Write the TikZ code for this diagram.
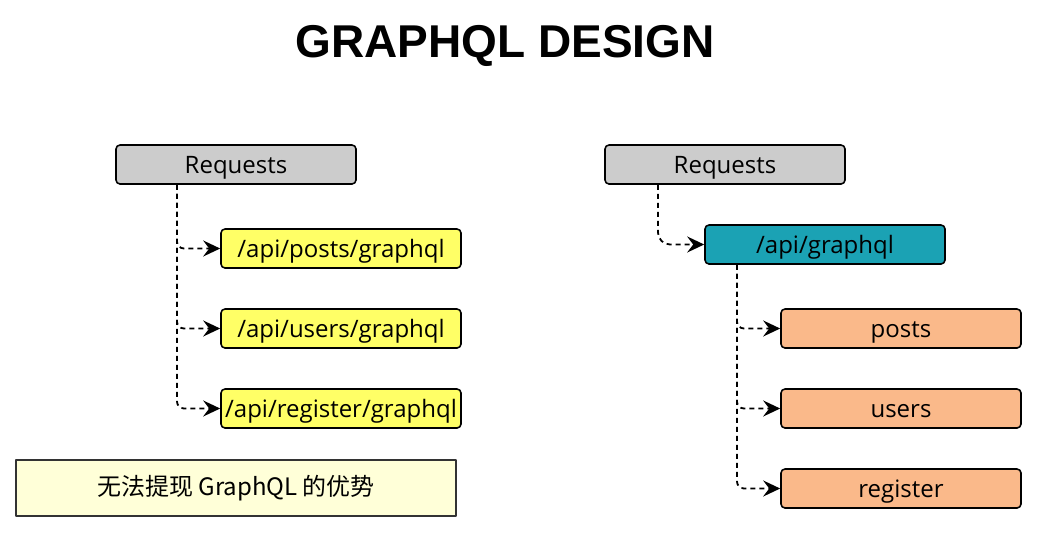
\documentclass[tikz,border=0pt]{standalone}
\usepackage{fontspec}
\setmainfont{Liberation Sans}
\newfontfamily\handfont{Open Sans}
\newfontfamily\cjk{Noto Sans CJK SC}
\usetikzlibrary{arrows.meta}
\definecolor{reqgray}{HTML}{CCCCCC}
\definecolor{pathyellow}{HTML}{FFFF66}
\definecolor{apiteal}{HTML}{1BA2B4}
\definecolor{fieldorange}{HTML}{FAB98A}
\definecolor{noteyellow}{HTML}{FFFFD8}
\definecolor{noteline}{HTML}{333333}
\tikzset{
  box/.style={draw=black,line width=1.6pt,rounded corners=4pt,minimum width=240pt,minimum height=39pt,inner sep=0pt,text height=18pt,text depth=0pt,font=\handfont\fontsize{24}{24}\selectfont},
  reqbox/.style={box,fill=reqgray},
  pathbox/.style={box,fill=pathyellow},
  apibox/.style={box,fill=apiteal},
  fieldbox/.style={box,fill=fieldorange},
  notebox/.style={draw=noteline,line width=1.6pt,fill=noteyellow,minimum width=440pt,minimum height=56pt,inner sep=0pt,font=\cjk\fontsize{24}{24}\selectfont},
  tip/.tip={Stealth[length=17pt,width=16pt,inset=6pt]},
  link/.style={dash pattern=on 5pt off 4pt,line width=1.8pt,rounded corners=7pt,-tip}
}
\begin{document}
\begin{tikzpicture}[x=1pt,y=-1pt,line cap=butt,line join=round]
		\useasboundingbox (0,0) rectangle (1039,533);
		\node[font=\bfseries\fontsize{46}{46}\selectfont] (title) at (505,46) {GRAPHQL DESIGN};
		% separate endpoints
		\node[reqbox] (reqL) at (236,164.5) {Requests};
		\node[pathbox] (postsL) at (341,248.5) {/api/posts/graphql};
		\node[pathbox] (usersL) at (341,328.5) {/api/users/graphql};
		\node[pathbox] (registerL) at (341,408.5) {/api/register/graphql};
		\node[notebox] (note) at (236,488) {无法提现 GraphQL 的优势};
		\path (177,0)coordinate(ltrunk);
		\draw[link] (reqL.south -| ltrunk) |- (postsL.west);
		\draw[link] (reqL.south -| ltrunk) |- (usersL.west);
		\draw[link] (reqL.south -| ltrunk) |- (registerL.west);
		% single endpoint
		\node[reqbox] (reqR) at (725,164.5) {Requests};
		\node[apibox] (api) at (825,244.5) {/api/graphql};
		\node[fieldbox] (postsR) at (901,328.5) {posts};
		\node[fieldbox] (usersR) at (901,408.5) {users};
		\node[fieldbox] (registerR) at (901,488.5) {register};
		\path (658,0)coordinate(rtrunk) (737,0)coordinate(apitrunk);
		\draw[link,rounded corners=12pt] (reqR.south -| rtrunk) |- (api.west);
		\draw[link] (api.south -| apitrunk) |- (postsR.west);
		\draw[link] (api.south -| apitrunk) |- (usersR.west);
		\draw[link] (api.south -| apitrunk) |- (registerR.west);
\end{tikzpicture}
\end{document}
